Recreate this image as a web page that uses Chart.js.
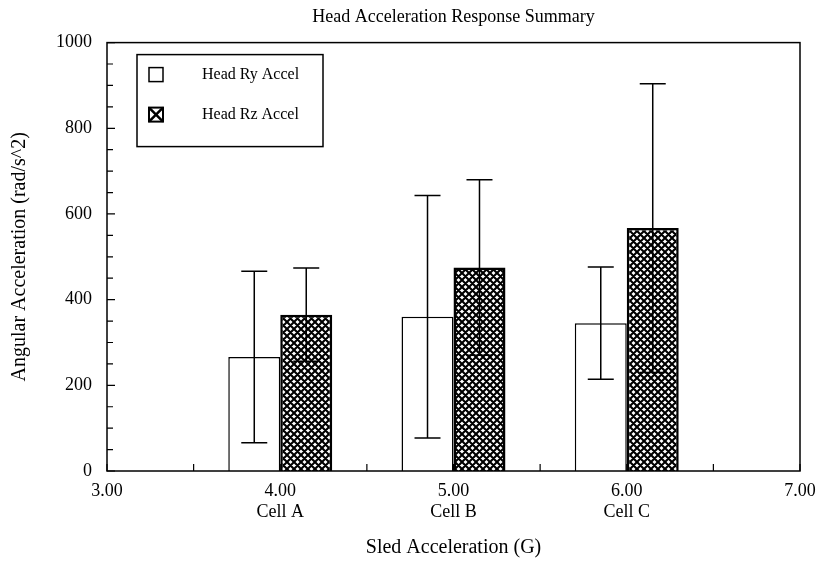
<!DOCTYPE html>
<html>
<head>
<meta charset="utf-8">
<title>Head Acceleration Response Summary</title>
<script src="https://cdn.jsdelivr.net/npm/chart.js@4"></script>
<style>
  html, body { margin: 0; padding: 0; background: #fff; }
  #wrap { width: 818px; height: 561px; }
</style>
</head>
<body>
<div id="wrap"><canvas id="chart" width="818" height="561"></canvas></div>
<script>
'use strict';

// Sled pulse level (G) and the test cell run at each
let sledG = [4, 5, 6];
let cellNames = ['Cell A', 'Cell B', 'Cell C'];

// Mean peak head angular acceleration (rad/s^2) and one std dev
let ryMean = [266, 360, 345];
let ryDev = [200, 283, 131];
let rzMean = [365, 475, 567];
let rzDev = [109, 205, 337];

// Labelled axis ticks
let xTicks = [3, 4, 5, 6, 7];
let yTicks = [0, 200, 400, 600, 800, 1000];

Chart.defaults.font.family = '"Liberation Serif", "Times New Roman", serif';
Chart.defaults.color = '#000';

let mainCanvas = document.getElementById('chart');
let ctx = mainCanvas.getContext('2d');

// Crosshatch fill for the Rz bars
function makeHatch() {
  let size = 7;
  let tile = document.createElement('canvas');
  tile.width = size;
  tile.height = size;
  let c = tile.getContext('2d');
  c.fillStyle = '#fff';
  c.fillRect(0, 0, size, size);
  c.strokeStyle = '#000';
  c.lineWidth = 2.1;
  c.beginPath();
  for (let k = -1; k <= 1; k++) {
    c.moveTo(k * size - 2, -2);
    c.lineTo(k * size + size + 2, size + 2);
    c.moveTo(k * size + size + 2, -2);
    c.lineTo(k * size - 2, size + 2);
  }
  c.stroke();
  return ctx.createPattern(tile, 'repeat');
}

let hatch = makeHatch();

// Inward tick marks, minor ones every half step
let tickMarks = {
  id: 'tickMarks',
  beforeDatasetsDraw(chart) {
    let c = chart.ctx;
    let area = chart.chartArea;
    let x = chart.scales.x;
    let y = chart.scales.y;
    c.save();
    c.strokeStyle = '#000';
    c.lineWidth = 1.2;
    c.beginPath();
    for (let v = 0; v <= 1000; v += 50) {
      let py = y.getPixelForValue(v);
      let len = v % 200 === 0 ? 8 : 6;
      c.moveTo(area.left, py);
      c.lineTo(area.left + len, py);
    }
    for (let v = 3; v <= 7; v += 0.5) {
      let px = x.getPixelForValue(v);
      c.moveTo(px, area.bottom);
      c.lineTo(px, area.bottom - 7);
    }
    c.stroke();
    c.restore();
  }
};

// Frame round the plot and the std dev whiskers
let errorBars = {
  id: 'errorBars',
  afterDatasetsDraw(chart) {
    let c = chart.ctx;
    let area = chart.chartArea;
    let y = chart.scales.y;
    c.save();
    c.strokeStyle = '#000';
    c.lineWidth = 1.5;
    c.strokeRect(area.left, area.top, area.right - area.left, area.bottom - area.top);

    chart.data.datasets.forEach((ds, d) => {
      let meta = chart.getDatasetMeta(d);
      meta.data.forEach((bar, j) => {
        let hi = y.getPixelForValue(ds.means[j] + ds.devs[j]);
        let lo = y.getPixelForValue(ds.means[j] - ds.devs[j]);
        c.beginPath();
        c.moveTo(bar.x, hi);
        c.lineTo(bar.x, lo);
        c.moveTo(bar.x - 13, hi);
        c.lineTo(bar.x + 13, hi);
        c.moveTo(bar.x - 13, lo);
        c.lineTo(bar.x + 13, lo);
        c.stroke();
      });
    });
    c.restore();
  }
};

// Boxed legend in the upper left of the plot
let boxLegend = {
  id: 'boxLegend',
  afterDraw(chart) {
    let c = chart.ctx;
    let area = chart.chartArea;
    let left = area.left + 30;
    let top = area.top + 12;
    c.save();
    c.strokeStyle = '#000';
    c.lineWidth = 1.5;
    c.strokeRect(left, top, 186, 92);

    c.font = '16px "Liberation Serif", "Times New Roman", serif';
    c.fillStyle = '#000';
    c.textBaseline = 'middle';
    chart.data.datasets.forEach((ds, d) => {
      let cy = top + 20 + d * 40;
      let sx = left + 12;
      let sy = cy - 7;
      c.fillStyle = '#fff';
      c.fillRect(sx, sy, 14, 14);
      if (d === 1) {
        c.lineWidth = 2.5;
        c.beginPath();
        c.moveTo(sx, sy);
        c.lineTo(sx + 14, sy + 14);
        c.moveTo(sx + 14, sy);
        c.lineTo(sx, sy + 14);
        c.stroke();
        c.lineWidth = 2;
      } else {
        c.lineWidth = 1.5;
      }
      c.strokeRect(sx, sy, 14, 14);
      c.fillStyle = '#000';
      c.fillText(ds.label, left + 65, cy);
    });
    c.restore();
  }
};

const chart = new Chart(ctx, {
  type: 'bar',
  data: {
    datasets: [{
      label: 'Head Ry Accel',
      data: sledG.map((g, i) => ({ x: g, y: ryMean[i] })),
      means: ryMean,
      devs: ryDev,
      backgroundColor: '#fff',
      borderColor: '#000',
      borderWidth: 1.5,
      categoryPercentage: 0.6,
      barPercentage: 1
    },
    {
      label: 'Head Rz Accel',
      data: sledG.map((g, i) => ({ x: g, y: rzMean[i] })),
      means: rzMean,
      devs: rzDev,
      backgroundColor: hatch,
      borderColor: '#000',
      borderWidth: 2.5,
      categoryPercentage: 0.6,
      barPercentage: 1
    }]
  },
  options: {
    responsive: false,
    animation: false,
    devicePixelRatio: 1,
    layout: { padding: { left: 0, right: 18, top: 0, bottom: 0 } },
    plugins: {
      legend: { display: false },
      tooltip: { enabled: false },
      title: {
        display: true,
        fullSize: false,
        text: 'Head Acceleration Response Summary',
        font: { size: 18, weight: 'normal' },
        padding: { top: 6, bottom: 15 }
      }
    },
    scales: {
      x: {
        type: 'linear',
        min: 3,
        max: 7,
        offset: false,
        afterBuildTicks(scale) {
          scale.ticks = xTicks.map(v => ({ value: v }));
        },
        afterFit(scale) {
          scale.height = 90;
          scale.paddingLeft = 0;
          scale.paddingRight = 0;
        },
        ticks: {
          autoSkip: false,
          maxRotation: 0,
          padding: 9,
          font: { size: 18 },
          callback(v) {
            let i = sledG.indexOf(v);
            return i < 0 ? v.toFixed(2) : [v.toFixed(2), cellNames[i]];
          }
        },
        grid: { display: false, drawTicks: false, offset: false },
        border: { display: false },
        title: {
          display: true,
          text: 'Sled Acceleration (G)',
          font: { size: 20 },
          padding: { top: 0, bottom: 1 }
        }
      },
      y: {
        min: 0,
        max: 1000,
        afterBuildTicks(scale) {
          scale.ticks = yTicks.map(v => ({ value: v }));
        },
        afterFit(scale) {
          scale.width = 107;
        },
        ticks: {
          padding: 15,
          font: { size: 18 },
          callback(v) {
            return String(v);
          }
        },
        grid: { display: false, drawTicks: false },
        border: { display: false },
        title: {
          display: true,
          text: 'Angular Acceleration (rad/s^2)',
          font: { size: 20 },
          padding: { top: 8, bottom: 0 }
        }
      }
    }
  },
  plugins: [tickMarks, errorBars, boxLegend]
});
</script>
</body>
</html>
